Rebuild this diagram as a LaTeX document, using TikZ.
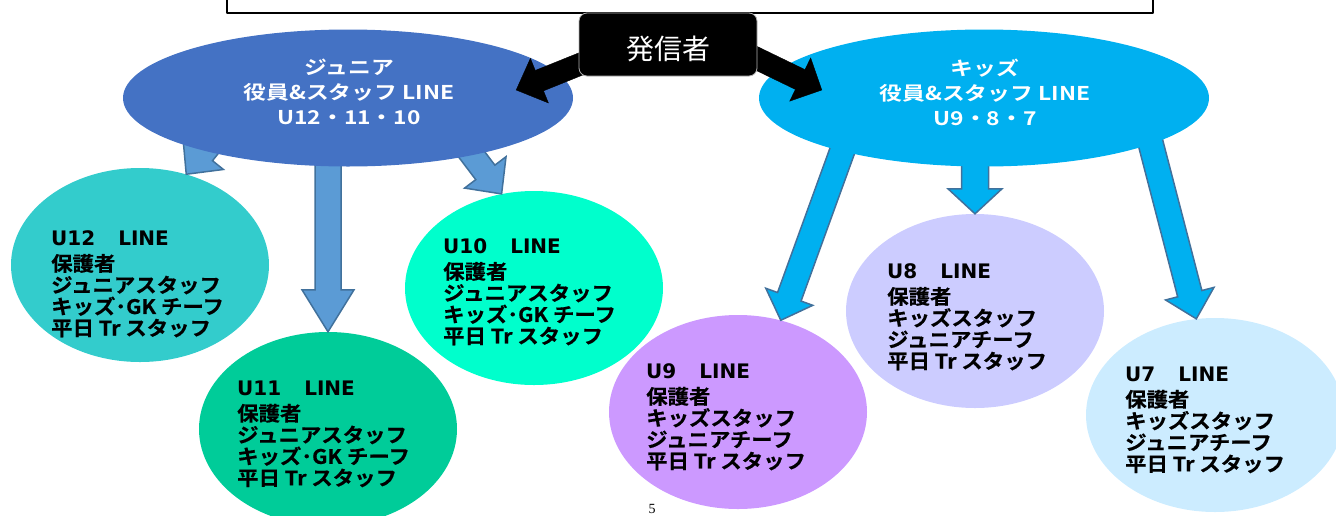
\documentclass[tikz,border=0pt]{standalone}
\usepackage{fontspec}
\setmainfont{Noto Sans CJK JP}[BoldFont={Noto Sans CJK JP Bold}]
\newfontfamily\vb{DejaVu Sans}[BoldFont={DejaVu Sans Bold}]
\newfontfamily\topfont{Noto Sans CJK JP Bold}[FakeStretch=1.2]
\newfontfamily\subfont{Noto Sans CJK JP Bold}[FakeStretch=1.07,FakeBold=0.5]
\newfontfamily\pgfont{Liberation Serif}
\usetikzlibrary{calc,shapes.geometric}

\definecolor{jrblue}{HTML}{4472C4}
\definecolor{kdblue}{HTML}{00B0F0}
\definecolor{jarrow}{HTML}{5B9BD5}
\definecolor{arrline}{HTML}{41719C}
\definecolor{cU12}{HTML}{33CCCC}
\definecolor{cU11}{HTML}{00CC99}
\definecolor{cU10}{HTML}{00FFCC}
\definecolor{cU9}{HTML}{CC99FF}
\definecolor{cU8}{HTML}{CCCCFF}
\definecolor{cU7}{HTML}{CCECFF}

\pgfdeclarelayer{bg}
\pgfdeclarelayer{mid}
\pgfdeclarelayer{fg}
\pgfsetlayers{bg,mid,main,fg}

% block arrow: [style]{start}{tip}{shaft half width}{head half width}{head length}
\newcommand{\blkarrow}[6][]{%
  \coordinate (bas) at #2;
  \coordinate (bat) at #3;
  \coordinate (bah) at ($(bat)!#6!(bas)$);
  \draw[#1] ($(bas)!#4!90:(bat)$) -- ($(bah)!#4!90:(bat)$) -- ($(bah)!#5!90:(bat)$) -- (bat)
    -- ($(bah)!#5!-90:(bat)$) -- ($(bah)!#4!-90:(bat)$) -- ($(bas)!#4!-90:(bat)$) -- cycle;
}

\tikzset{
  topell/.style={ellipse, minimum width=450pt, minimum height=137pt, inner sep=0pt},
  subell/.style={ellipse, minimum width=258pt, minimum height=194pt, inner sep=0pt},
  toptext/.style={text=white, align=center, inner sep=0pt, font=\topfont\fontsize{19}{25}\selectfont},
  subtext/.style={anchor=west, align=left, inner sep=0pt, font=\subfont\fontsize{20}{21.5}\selectfont},
  sender/.style={rectangle, rounded corners=8pt, fill=black, draw=gray!60, line width=0.8pt,
    minimum width=178pt, minimum height=63pt, text=white, text height=30pt, text depth=0pt,
    font=\fontsize{28}{30}\selectfont},
  jarr/.style={fill=jarrow, draw=arrline, line width=1.5pt, line join=miter},
  karr/.style={fill=kdblue, draw=arrline, line width=1.5pt, line join=miter},
  barr/.style={fill=black, line join=miter},
}

\begin{document}
\begin{tikzpicture}[x=1pt,y=-1pt,line join=round]
  \useasboundingbox (0,0) rectangle (1336,515);
  % frame at the top
  \draw[line width=2pt] (227,-20) rectangle (1153,13);
  % the two staff groups
  \node[topell,fill=jrblue] (jr) at (348,98) {};
  \node[topell,fill=kdblue] (kd) at (984,98) {};
  \node[toptext] (jrt) at ($(jr.center)+(1,-6)$) {ジュニア\\役員\&スタッフ LINE\\U12・11・10};
  \node[toptext] (kdt) at ($(kd.center)+(1,-6)$) {キッズ\\役員\&スタッフ LINE\\U9・8・7};
  \begin{pgfonlayer}{fg}
    \node[sender] (snd) at (668,44.5) {発信者};
  \end{pgfonlayer}
  \blkarrow[barr]{($(snd.south west)+(6,-14)$)}{($(jr.east)+(-57,-8)$)}{11pt}{24pt}{25pt}
  \blkarrow[barr]{($(snd.south east)+(-7,-21)$)}{($(kd.west)+(63,-8)$)}{11pt}{24pt}{24pt}
  % one LINE group per team
  \begin{pgfonlayer}{bg}
    \node[subell,fill=cU12] (u12) at (140,265) {};
    \node[subell,fill=cU11] (u11) at (328,429) {};
    \node[subell,fill=cU10] (u10) at (534,288) {};
    \node[subell,fill=cU9]  (u9)  at (738,412) {};
    \node[subell,fill=cU8]  (u8)  at (975,311) {};
    \node[subell,fill=cU7]  (u7)  at (1215,415) {};
    \node[subtext] (u12t) at ($(u12.center)+(-89,19)$) {{\vb\bfseries U12\hspace{1.15em}LINE}\\[4pt]保護者\\ジュニアスタッフ\\キッズ･GK チーフ\\平日 Tr スタッフ};
    \node[subtext] (u11t) at ($(u11.center)+(-91,5)$) {{\vb\bfseries U11\hspace{1.15em}LINE}\\[4pt]保護者\\ジュニアスタッフ\\キッズ･GK チーフ\\平日 Tr スタッフ};
    \node[subtext] (u10t) at ($(u10.center)+(-91,4)$) {{\vb\bfseries U10\hspace{1.15em}LINE}\\[4pt]保護者\\ジュニアスタッフ\\キッズ･GK チーフ\\平日 Tr スタッフ};
    \node[subtext] (u9t) at ($(u9.center)+(-92,5)$) {{\vb\bfseries U9\hspace{1.15em}LINE}\\[4pt]保護者\\キッズスタッフ\\ジュニアチーフ\\平日 Tr スタッフ};
    \node[subtext] (u8t) at ($(u8.center)+(-88,6)$) {{\vb\bfseries U8\hspace{1.15em}LINE}\\[4pt]保護者\\キッズスタッフ\\ジュニアチーフ\\平日 Tr スタッフ};
    \node[subtext] (u7t) at ($(u7.center)+(-90,5)$) {{\vb\bfseries U7\hspace{1.15em}LINE}\\[4pt]保護者\\キッズスタッフ\\ジュニアチーフ\\平日 Tr スタッフ};
  \end{pgfonlayer}
  \begin{pgfonlayer}{mid}
    \blkarrow[jarr]{($(jr.center)+(-115,18)$)}{(u12.63)}{12pt}{26pt}{27pt}
    \blkarrow[jarr]{(u11.north |- jr.center)}{(u11.north)}{13pt}{26pt}{42pt}
    \blkarrow[jarr]{($(jr.center)+(109,37)$)}{(u10.109)}{12pt}{26pt}{27pt}
    \blkarrow[karr]{($(kd.center)+(-136,37)$)}{(u9.65)}{12.5pt}{25pt}{25pt}
    \blkarrow[karr]{(u8.north |- kd.center)}{(u8.north)}{13.5pt}{27pt}{25pt}
    \blkarrow[karr]{($(kd.center)+(164.5,37)$)}{(u7.101)}{12.5pt}{25pt}{26pt}
  \end{pgfonlayer}
  \node[font=\pgfont\fontsize{14}{14}\selectfont, inner sep=0pt] (pg) at (652,509) {5};
\end{tikzpicture}
\end{document}
